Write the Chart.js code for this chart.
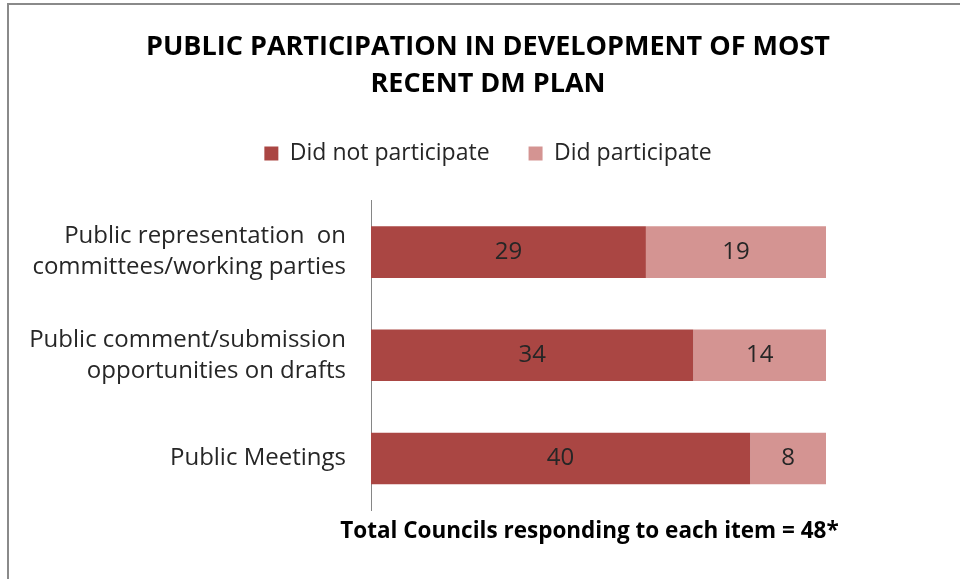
<!DOCTYPE html>
<html>
<head>
<meta charset="utf-8">
<script src="https://cdn.jsdelivr.net/npm/chart.js@4.4.1/dist/chart.umd.min.js"></script>
<style>
  html, body { margin: 0; padding: 0; background: #fff; overflow: hidden; }
  #wrap { position: relative; width: 960px; height: 579px; }
  #frame { position: absolute; left: 7px; top: 3px; width: 1000px; height: 700px;
           border-left: 2px solid #8a8a8a; border-top: 2px solid #8a8a8a; pointer-events: none; }
  canvas { position: absolute; left: 0; top: 0; }
</style>
</head>
<body>
<div id="wrap">
  <canvas id="myChart" width="960" height="579"></canvas>
  <div id="frame"></div>
</div>
<script>
// Survey data
const categories = [
    ['Public representation  on', 'committees/working parties'],
    ['Public comment/submission', 'opportunities on drafts'],
    'Public Meetings'
];
const didNotParticipate = [29, 34, 40];
const didParticipate = [19, 14, 8];
const totalCouncils = 48;
const footNote = 'Total Councils responding to each item = ' + totalCouncils + '*';

const FONT = '"Open Sans", Lato, sans-serif';

// writes each value in the middle of its bar segment
const barValues = {
    id: 'barValues',
    afterDatasetsDraw(chart) {
        const ctx = chart.ctx;
        ctx.save();
        ctx.font = '24px ' + FONT;
        ctx.fillStyle = '#262626';
        ctx.textAlign = 'center';
        ctx.textBaseline = 'middle';
        chart.data.datasets.forEach((ds, i) => {
            chart.getDatasetMeta(i).data.forEach((bar, j) => {
                const p = bar.getCenterPoint();
                ctx.fillText(ds.data[j], p.x, p.y);
            });
        });
        ctx.restore();
    }
};

// note under the bars (axis titles get squeezed to the axis width)
const footNotePlugin = {
    id: 'footNote',
    afterDraw(chart) {
        const {ctx, chartArea} = chart;
        ctx.save();
        ctx.font = 'bold 22.5px ' + FONT;
        ctx.fillStyle = '#000';
        ctx.textAlign = 'center';
        ctx.textBaseline = 'middle';
        ctx.fillText(footNote, (chartArea.left + chartArea.right) / 2 - 9, chartArea.bottom + 22);
        ctx.restore();
    }
};

const ctx = document.getElementById('myChart');
const cht = new Chart(ctx, {
    type: 'bar',
    data: {
        labels: categories,
        datasets: [{
            label: 'Did not participate',
            data: didNotParticipate,
            backgroundColor: '#AA4643'
        }, {
            label: 'Did participate',
            data: didParticipate,
            backgroundColor: '#D49492'
        }]
    },
    plugins: [barValues, footNotePlugin],
    options: {
        indexAxis: 'y',
        responsive: false,
        animation: false,
        categoryPercentage: 1,
        barPercentage: 0.5,
        layout: { padding: { left: 16, right: 0, top: 0, bottom: 0 } },
        scales: {
            x: {
                stacked: true,
                min: 0,
                max: totalCouncils,
                grid: { display: false, drawTicks: false },
                border: { display: false },
                ticks: { display: false },
                afterFit(scale) { scale.height = 69; }
            },
            // empty space between legend and bars
            gapTop: {
                type: 'linear',
                axis: 'x',
                position: 'top',
                grid: { display: false, drawTicks: false },
                border: { display: false },
                ticks: { display: false },
                afterFit(scale) { scale.height = 25.5; }
            },
            y: {
                stacked: true,
                grid: { display: false, drawTicks: false },
                border: { display: true, color: '#868686', width: 1 },
                ticks: {
                    color: '#262626',
                    padding: 25,
                    font: { family: FONT, size: 24, lineHeight: 31 / 24 }
                },
                afterFit(scale) { scale.width = 355; }
            },
            // empty space right of the bars
            gapRight: {
                type: 'linear',
                axis: 'y',
                position: 'right',
                grid: { display: false, drawTicks: false },
                border: { display: false },
                ticks: { display: false },
                afterFit(scale) { scale.width = 134; }
            }
        },
        plugins: {
            title: {
                display: true,
                text: ['PUBLIC PARTICIPATION IN DEVELOPMENT OF MOST', 'RECENT DM PLAN'],
                color: '#000',
                font: { family: FONT, size: 27, weight: 'bold', lineHeight: 37 / 27 },
                padding: { top: 29, bottom: 0 }
            },
            legend: {
                position: 'top',
                labels: {
                    boxWidth: 14,
                    boxHeight: 14,
                    padding: 39,
                    color: '#262626',
                    font: { family: FONT, size: 23 }
                }
            },
            tooltip: { enabled: false }
        }
    }
});
</script>
</body>
</html>
